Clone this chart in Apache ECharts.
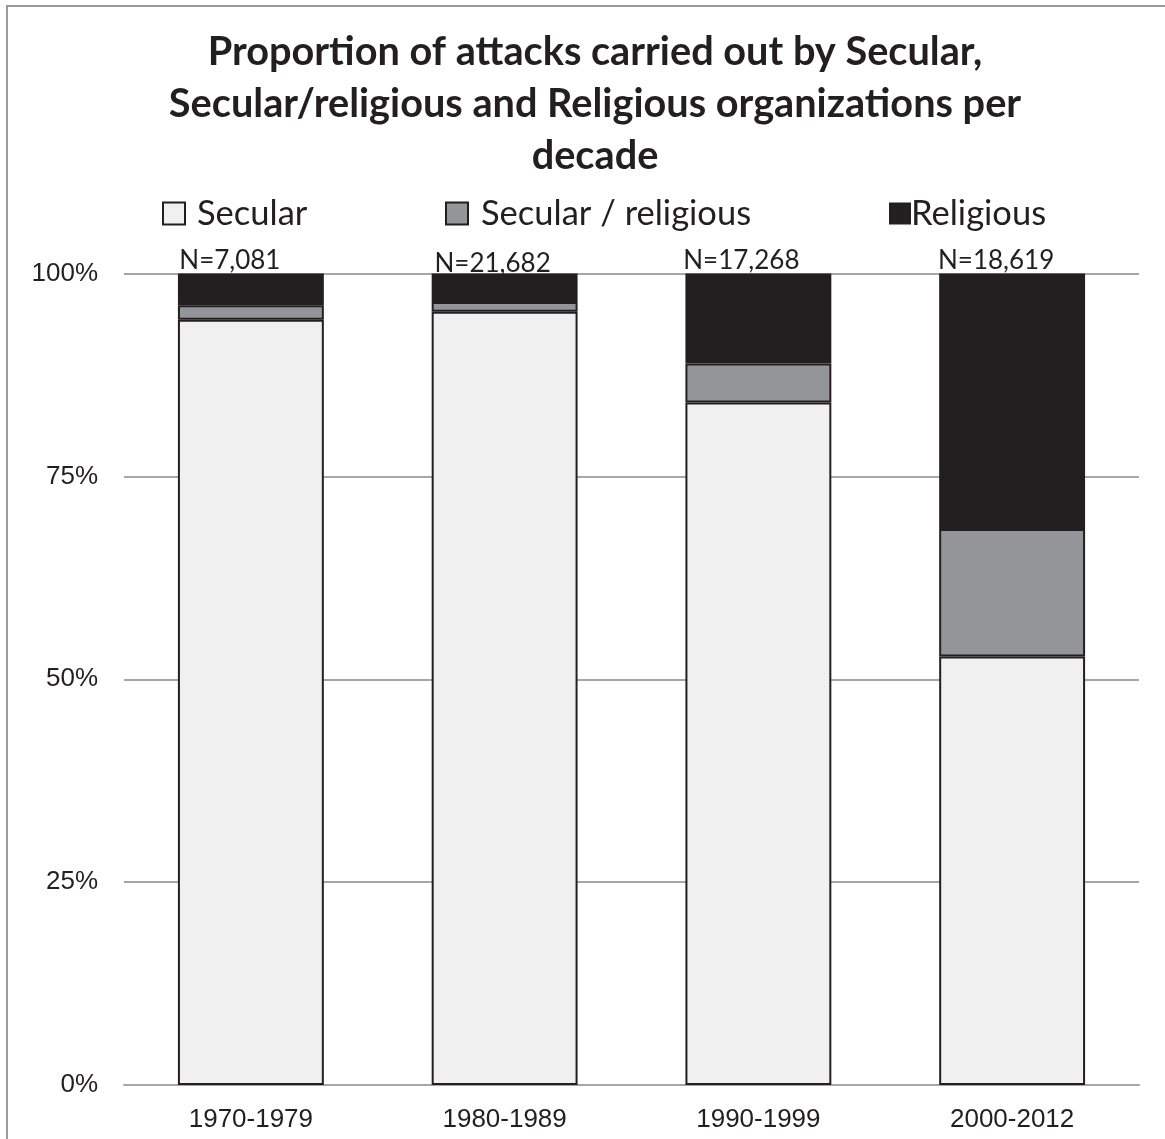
<!DOCTYPE html>
<html>
<head>
<meta charset="utf-8">
<script src="https://cdn.jsdelivr.net/npm/echarts@6/dist/echarts.min.js"></script>
<style>
  html, body { margin: 0; padding: 0; background: #ffffff; }
  #chart { width: 1165px; height: 1139px; }
</style>
</head>
<body>
<div id="chart"></div>
<script>
// Share of attacks (%) per decade, by type of organization
const decades = ['1970-1979', '1980-1989', '1990-1999', '2000-2012'];
const secular = [94.3, 95.3, 84.1, 52.8];
const secularReligious = [1.8, 1.2, 4.8, 15.7];
const religious = [3.9, 3.5, 11.1, 31.5];
const totals = ['N=7,081', 'N=21,682', 'N=17,268', 'N=18,619'];
const yTicks = [0, 25, 50, 75, 100];

const INK = '#231f20';
const GRID = '#a6a6a6';
const FILL_SECULAR = '#f0f0f0';
const FILL_MIXED = '#939598';
const FILL_RELIGIOUS = '#231f20';
const AXIS_FONT = "'Liberation Sans', Arial, sans-serif";
const TEXT_FONT = "Lato, 'Noto Sans', sans-serif";

// horizontal nudge of each "N=" caption relative to its bar centre
const captionShift = [[-21, 0], [-12, 3], [-17, 0], [-16, 0]];

const chart = echarts.init(document.getElementById('chart'), null, { renderer: 'canvas' });

const barStyle = (fill) => ({ color: fill, borderColor: INK, borderWidth: 2 });

const legendText = (pad) => ({ fontFamily: TEXT_FONT, fontSize: 34.5, color: INK, padding: [0, 0, 0, pad] });

const legendBase = {
  orient: 'horizontal',
  top: 191,
  itemWidth: 22,
  itemHeight: 22,
  icon: 'rect',
  selectedMode: false
};

chart.setOption({
  backgroundColor: '#ffffff',
  animation: false,
  title: {
    text: 'Proportion of attacks carried out by Secular,\nSecular/religious and Religious organizations per\ndecade',
    left: 590,
    top: 21,
    textAlign: 'center',
    textStyle: {
      fontFamily: TEXT_FONT,
      fontWeight: 'bold',
      fontSize: 39.7,
      lineHeight: 52,
      color: INK
    }
  },
  legend: [
    Object.assign({}, legendBase, {
      left: 157,
      data: [{ name: 'Secular', itemStyle: { color: FILL_SECULAR, borderColor: INK, borderWidth: 2 } }],
      textStyle: legendText(7)
    }),
    Object.assign({}, legendBase, {
      left: 440,
      data: [{ name: 'Secular / religious', itemStyle: { color: FILL_MIXED, borderColor: INK, borderWidth: 2 } }],
      textStyle: legendText(8)
    }),
    Object.assign({}, legendBase, {
      left: 884,
      data: [{ name: 'Religious', itemStyle: { color: FILL_RELIGIOUS, borderColor: INK, borderWidth: 0 } }],
      textStyle: legendText(-5)
    })
  ],
  grid: { left: 124, right: 26, top: 273.5, bottom: 54 },
  xAxis: {
    type: 'category',
    data: decades,
    axisLine: { show: true, lineStyle: { color: GRID, width: 2 } },
    axisTick: { show: false },
    axisLabel: {
      fontFamily: AXIS_FONT,
      fontSize: 26,
      color: INK,
      margin: 22
    }
  },
  yAxis: {
    type: 'value',
    min: yTicks[0],
    max: yTicks[yTicks.length - 1],
    interval: yTicks[1] - yTicks[0],
    axisLine: { show: false },
    axisTick: { show: false },
    splitLine: { show: true, lineStyle: { color: GRID, width: 2 } },
    axisLabel: {
      formatter: '{value}%',
      fontFamily: AXIS_FONT,
      fontSize: 26,
      color: INK,
      margin: 26
    }
  },
  series: [
    {
      name: 'Secular',
      type: 'bar',
      stack: 'share',
      barWidth: '57.5%',
      data: secular,
      itemStyle: barStyle(FILL_SECULAR)
    },
    {
      name: 'Secular / religious',
      type: 'bar',
      stack: 'share',
      data: secularReligious,
      itemStyle: barStyle(FILL_MIXED)
    },
    {
      name: 'Religious',
      type: 'bar',
      stack: 'share',
      data: religious.map((v, i) => ({
        value: v,
        label: {
          show: true,
          position: 'top',
          distance: 0,
          offset: captionShift[i],
          formatter: totals[i],
          fontFamily: TEXT_FONT,
          fontSize: 26,
          color: INK
        }
      })),
      itemStyle: barStyle(FILL_RELIGIOUS)
    }
  ],
  graphic: [
    {
      type: 'rect',
      silent: true,
      shape: { x: 7, y: 6, width: 1300, height: 1300 },
      style: { fill: 'none', stroke: '#9a9a9a', lineWidth: 2 }
    }
  ]
});
</script>
</body>
</html>
